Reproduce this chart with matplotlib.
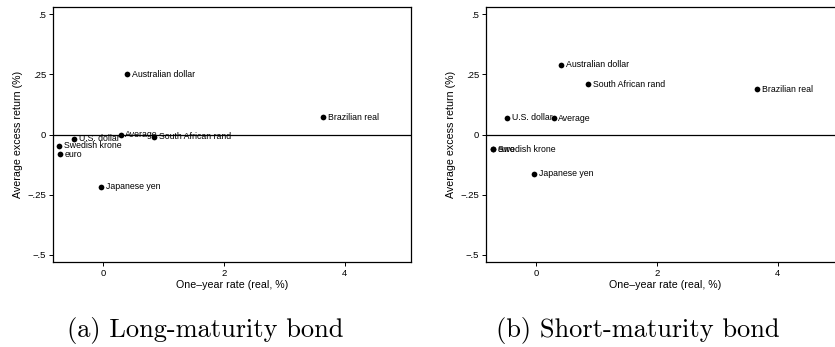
import numpy as np
import matplotlib.pyplot as plt

# data
currencies = ["Australian dollar", "Brazilian real", "Average", "South African rand",
              "U.S. dollar", "Swedish krone", "euro", "Japanese yen"]
rate = [0.40, 3.65, 0.29, 0.84, -0.48, -0.73, -0.71, -0.04]
ret_long = [0.250, 0.072, -0.002, -0.010, -0.017, -0.046, -0.083, -0.218]
ret_short = [0.289, 0.189, 0.067, 0.209, 0.070, -0.061, -0.061, -0.164]
rate_short = [0.42, 3.66, 0.29, 0.86, -0.48, -0.71, -0.71, -0.04]

yticks = [-0.5, -0.25, 0, 0.25, 0.5]
yticklabels = ["\u2212.5", "\u2212.25", "0", ".25", ".5"]
xticks = [0, 2, 4]
captions = ["(a) Long-maturity bond", "(b) Short-maturity bond"]

plt.rcParams['font.family'] = ['Liberation Sans', 'DejaVu Sans']

fig = plt.figure(figsize=(8.35, 3.47), dpi=100)
ax1 = fig.add_axes([53 / 835, 1 - 262 / 347, 358 / 835, 255 / 347])
ax2 = fig.add_axes([486 / 835, 1 - 262 / 347, 358 / 835, 255 / 347])


def draw_panel(ax, xs, ys):
    ax.axhline(0, color='black', lw=0.9, zorder=1)
    ax.scatter(xs, ys, s=17, color='black', zorder=3, linewidths=0)
    for name, x, y in zip(currencies, xs, ys):
        ax.annotate(name, (x, y), xytext=(3.5, 0), textcoords='offset points',
                    fontsize=6.3, va='center', ha='left')
    ax.set_xlim(-0.83, 5.1)
    ax.set_ylim(-0.53, 0.53)
    ax.set_xticks(xticks)
    ax.set_xticklabels([str(t) for t in xticks])
    ax.set_yticks(yticks)
    ax.set_yticklabels(yticklabels)
    ax.tick_params(direction='out', length=3, width=0.7, labelsize=6.8, pad=2)
    ax.set_xlabel("One\u2013year rate (real, %)", fontsize=7.7, labelpad=1.5)
    ax.set_ylabel("Average excess return (%)", fontsize=7.7, labelpad=3)
    for sp in ax.spines.values():
        sp.set_linewidth(0.9)


draw_panel(ax1, rate, ret_long)
draw_panel(ax2, rate_short, ret_short)

fig.text(205 / 835, 1 - 331 / 347, captions[0], family='cmr10', fontsize=19,
         ha='center', va='center')
fig.text(638 / 835, 1 - 331 / 347, captions[1], family='cmr10', fontsize=19,
         ha='center', va='center')

fig.savefig("out.png", dpi=100)
